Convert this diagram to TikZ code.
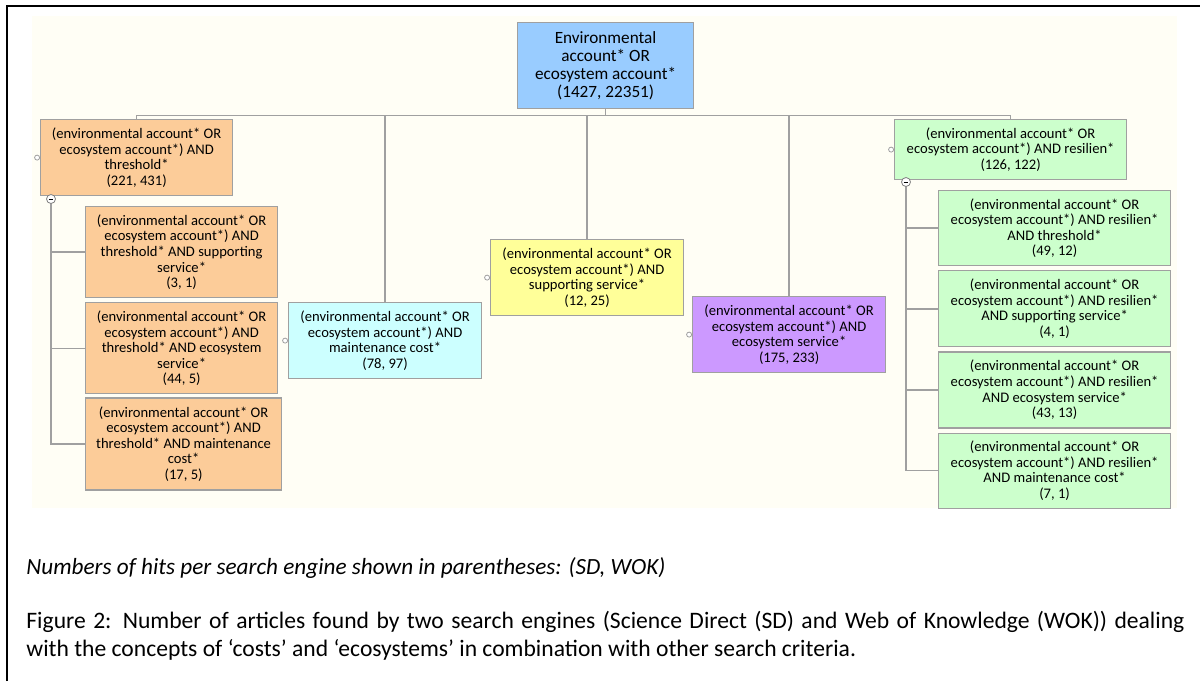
\documentclass[tikz,border=0pt]{standalone}
\usepackage{fontspec}
\setmainfont{Carlito}
\usepackage{xcolor}
\usepackage{tikz}
\usetikzlibrary{positioning}

\definecolor{rootblue}{RGB}{153,204,255}
\definecolor{throrange}{RGB}{252,204,153}
\definecolor{mccyan}{RGB}{204,255,255}
\definecolor{ssyellow}{RGB}{255,255,153}
\definecolor{espurple}{RGB}{204,153,255}
\definecolor{resgreen}{RGB}{204,255,204}
\definecolor{boxline}{RGB}{160,160,160}
\definecolor{paper}{RGB}{255,254,245}

\begin{document}
\begin{tikzpicture}[x=0.5pt, y=-0.5pt]
    % Define the style for the nodes
    \tikzstyle{query} = [rectangle, draw=boxline, line width=0.6pt, inner sep=0pt, align=center, anchor=north west, font=\fontsize{7.3}{7.8}\selectfont]
    \tikzstyle{line} = [draw=boxline, line width=0.7pt]
    \tikzstyle{port} = [circle, draw=boxline, fill=white, inner sep=0pt, minimum size=2.5pt, line width=0.4pt]
    \tikzstyle{toggle} = [circle, draw=gray, fill=white, inner sep=0pt, minimum size=4.5pt, line width=0.4pt]

    % Page, frame and background
    \useasboundingbox (0,0) rectangle (1200,681);
    \fill[paper] (32,16) rectangle (1177,508);
    \draw[line width=1pt] (7,681) -- (7,6) -- (1200,6);

    % Place the nodes
    \node [query, fill=rootblue, minimum width=88pt, minimum height=43pt, font=\fontsize{8.6}{8.9}\selectfont] (root) at (517,22) {Environmental\\account* OR\\ecosystem account*\\(1427, 22351)};

    \node [query, fill=throrange, minimum width=96pt, minimum height=38pt] (thr) at (40,119) {(environmental account* OR\\ecosystem account*) AND\\threshold*\\(221, 431)};
    \node [query, fill=throrange, minimum width=96pt, minimum height=45.5pt] (o1) at (85,206) {(environmental account* OR\\ecosystem account*) AND\\threshold* AND supporting\\service*\\(3, 1)};
    \node [query, fill=throrange, minimum width=96pt, minimum height=45.5pt, below right=2pt and 0pt of o1.south west] (o2) {(environmental account* OR\\ecosystem account*) AND\\threshold* AND ecosystem\\service*\\(44, 5)};
    \node [query, fill=throrange, minimum width=98pt, minimum height=46pt, below right=1.5pt and 0pt of o2.south west] (o3) {(environmental account* OR\\ecosystem account*) AND\\threshold* AND maintenance\\cost*\\(17, 5)};

    \node [query, fill=mccyan, minimum width=96.5pt, minimum height=38pt] (mc) at (288,302) {(environmental account* OR\\ecosystem account*) AND\\maintenance cost*\\(78, 97)};
    \node [query, fill=ssyellow, minimum width=96.5pt, minimum height=38pt] (ss) at (490,239) {(environmental account* OR\\ecosystem account*) AND\\supporting service*\\(12, 25)};
    \node [query, fill=espurple, minimum width=96.5pt, minimum height=38pt] (es) at (692,296) {(environmental account* OR\\ecosystem account*) AND\\ecosystem service*\\(175, 233)};

    \node [query, fill=resgreen, minimum width=116pt, minimum height=30pt] (res) at (894,119) {(environmental account* OR\\ecosystem account*) AND resilien*\\(126, 122)};
    \node [query, fill=resgreen, minimum width=116pt, minimum height=37.5pt] (g1) at (938,190) {(environmental account* OR\\ecosystem account*) AND resilien*\\AND threshold*\\(49, 12)};
    \node [query, fill=resgreen, minimum width=116pt, minimum height=38pt, below right=2pt and 0pt of g1.south west] (g2) {(environmental account* OR\\ecosystem account*) AND resilien*\\AND supporting service*\\(4, 1)};
    \node [query, fill=resgreen, minimum width=116pt, minimum height=38pt, below right=2pt and 0pt of g2.south west] (g3) {(environmental account* OR\\ecosystem account*) AND resilien*\\AND ecosystem service*\\(43, 13)};
    \node [query, fill=resgreen, minimum width=116pt, minimum height=37.5pt, below right=2pt and 0pt of g3.south west] (g4) {(environmental account* OR\\ecosystem account*) AND resilien*\\AND maintenance cost*\\(7, 1)};

    % Connect the nodes with paths
    \foreach \c in {thr,mc,ss,es,res}
        \path [line] (root.south) -- ++(0,6) -| (\c.north);
    \coordinate (thrtog) at (51,199);
    \coordinate (restog) at (906,182);
    \foreach \c in {o1,o2,o3}
        \path [line] (thrtog) |- (\c.west);
    \foreach \c in {g1,g2,g3,g4}
        \path [line] (restog) |- (\c.west);

    % Small handles
    \node [toggle] (thrminus) at (thrtog) {\rule{2.4pt}{0.4pt}};
    \node [toggle] (resminus) at (restog) {\rule{2.4pt}{0.4pt}};
    \node [port, left=0pt of thr.west] (thrport) {};
    \node [port, left=0pt of mc.west] (mcport) {};
    \node [port, left=0pt of ss.west] (ssport) {};
    \node [port, left=0pt of es.west] (esport) {};
    \node [port, left=0pt of res.west] (resport) {};

    % Caption
    \node [anchor=west, inner sep=0pt, font=\fontsize{11.6}{13}\selectfont\itshape] (hits) at (26,568) {Numbers of hits per search engine shown in parentheses: (SD, WOK)};
    \node [anchor=north west, inner sep=0pt, align=left, font=\fontsize{11.8}{13.8}\selectfont] (caption) at (26,611) {\hbox to 579pt{Figure 2: Number of articles found by two search engines (Science Direct (SD) and Web of Knowledge (WOK)) dealing}\\with the concepts of ‘costs’ and ‘ecosystems’ in combination with other search criteria.};

\end{tikzpicture}
\end{document}
